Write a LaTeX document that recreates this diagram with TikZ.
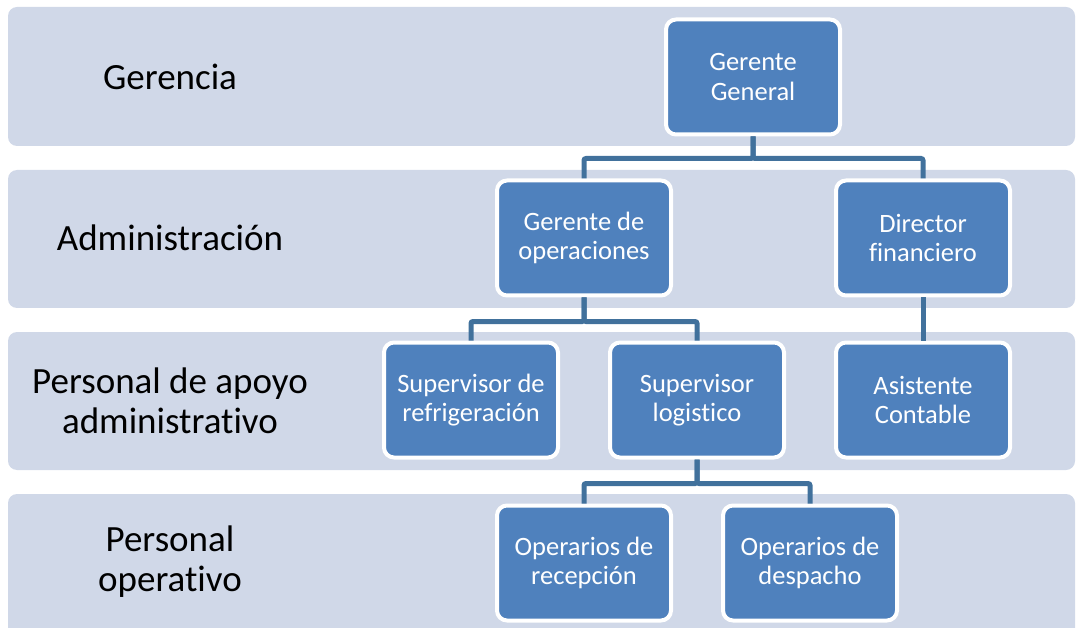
\documentclass[tikz,border=0pt]{standalone}
\usepackage{fontspec}
\setmainfont[Ligatures=NoCommon]{Carlito}
\usetikzlibrary{positioning}
\definecolor{bandfill}{HTML}{D0D8E8}
\definecolor{boxfill}{HTML}{4F81BD}
\definecolor{linkcol}{HTML}{41719C}
\tikzset{
  band/.style={fill=bandfill, rounded corners=9pt},
  levellabel/.style={align=center, font=\fontsize{37}{40}\selectfont},
  orgbox/.style={draw=white, line width=4pt, fill=boxfill, rounded corners=10pt,
    text=white, align=center, minimum width=174pt, minimum height=115pt,
    font=\fontsize{26.5}{29.5}\selectfont},
  link/.style={draw=linkcol, line width=5pt, rounded corners=2pt}
}

\begin{document}
\begin{tikzpicture}[x=1pt,y=-1pt]
\clip (0,0) rectangle (1076,628);
% level bands
\foreach \ytop/\ybot in {7/146,170/308,332/470,494/650}
  \fill[band] (8,\ytop) rectangle (1075,\ybot);
% level labels
\node[levellabel] (lgen) at (170,77) {Gerencia};
\node[levellabel] (ladm) at (170,238) {Administración};
\node[levellabel] (lapo) at (170,401) {Personal de apoyo\\administrativo};
\node[levellabel] (lope) at (170,562) {Personal\\operativo};
% boxes
\node[orgbox] (gg) at (753,77) {Gerente\\General};
\node[orgbox] (gdo) at (584,238) {Gerente de\\operaciones};
\node[orgbox] (dirf) at (923,238) {Director\\financiero};
\node[orgbox] (sref) at (471,400) {Supervisor de\\refrigeración};
\node[orgbox] (slog) at (697,400) {Supervisor\\logistico};
\node[orgbox] (asis) at (923,400) {Asistente\\Contable};
\node[orgbox] (orec) at (584,563) {Operarios de\\recepción};
\node[orgbox] (odes) at (810,563) {Operarios de\\despacho};
% links
\draw[link] (gg.south) -- ++(0,22) -| (gdo.north);
\draw[link] (gg.south) -- ++(0,22) -| (dirf.north);
\draw[link] (gdo.south) -- ++(0,24) -| (sref.north);
\draw[link] (gdo.south) -- ++(0,24) -| (slog.north);
\draw[link] (dirf.south) -- (asis.north);
\draw[link] (slog.south) -- ++(0,24) -| (orec.north);
\draw[link] (slog.south) -- ++(0,24) -| (odes.north);
\end{tikzpicture}
\end{document}
